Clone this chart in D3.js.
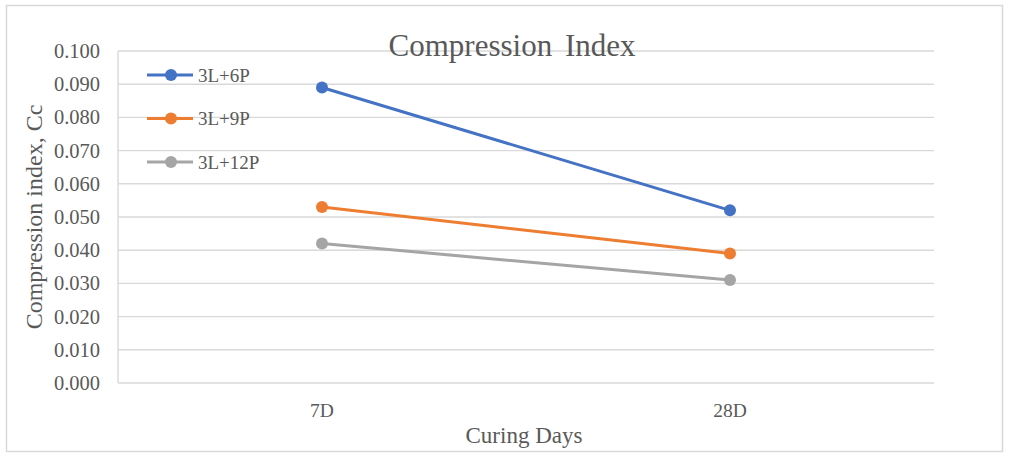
<!DOCTYPE html>
<html>
  <head>
    <meta charset="utf-8" />
    <title>Compression Index</title>
    <style>
      body {
        margin: 0;
        background: #fff;
      }
      svg text {
        font-family: "Liberation Serif", "Times New Roman", serif !important;
        fill: #595959;
      }
      .grid line {
        stroke: #d9d9d9;
        stroke-width: 1.4;
      }
    </style>
    <script src="https://d3js.org/d3.v7.min.js" charset="utf-8"></script>
  </head>
  <body>
    <script>
      const categories = ["7D", "28D"];
      const seriesNames = ["3L+6P", "3L+9P", "3L+12P"];
      const seriesValues = [
        [0.089, 0.052],
        [0.053, 0.039],
        [0.042, 0.031],
      ];
      const yTicks = [0, 0.01, 0.02, 0.03, 0.04, 0.05, 0.06, 0.07, 0.08, 0.09, 0.1];
      const colors = ["#4472c4", "#ed7d31", "#a5a5a5"];

      const W = 1011,
        H = 454;
      const margin = { top: 51, right: 77, bottom: 71, left: 118 };
      const width = W - margin.left - margin.right,
        height = H - margin.top - margin.bottom;

      const svg = d3.select("body").append("svg").attr("width", W).attr("height", H);

      // outer chart frame
      svg
        .append("rect")
        .attr("x", 6.5)
        .attr("y", 5.5)
        .attr("width", 996)
        .attr("height", 446)
        .attr("fill", "#fff")
        .attr("stroke", "#d9d9d9")
        .attr("stroke-width", 1.5);

      const x = d3.scaleBand().domain(categories).range([0, width]);
      const y = d3.scaleLinear().domain([0, 0.1]).range([height, 0]);

      const g = svg
        .append("g")
        .attr("transform", "translate(" + margin.left + "," + margin.top + ")");

      // horizontal gridlines
      g.append("g")
        .attr("class", "grid")
        .selectAll("line")
        .data(yTicks)
        .join("line")
        .attr("x1", 0)
        .attr("x2", width)
        .attr("y1", (d) => y(d))
        .attr("y2", (d) => y(d));

      // left axis line
      g.append("line")
        .attr("x1", 0)
        .attr("x2", 0)
        .attr("y1", 0)
        .attr("y2", height)
        .attr("stroke", "#d9d9d9")
        .attr("stroke-width", 1.4);

      // y axis labels
      const yAxis = g
        .append("g")
        .call(d3.axisLeft(y).tickValues(yTicks).tickFormat(d3.format(".3f")).tickSize(0).tickPadding(18));
      yAxis.select(".domain").remove();
      yAxis.selectAll("text").style("font-size", "20.5px");

      // x axis labels
      const xAxis = g
        .append("g")
        .attr("transform", "translate(0," + height + ")")
        .call(d3.axisBottom(x).tickSize(0).tickPadding(20));
      xAxis.select(".domain").remove();
      xAxis.selectAll("text").style("font-size", "19.5px");

      // title
      svg
        .append("text")
        .attr("x", 512)
        .attr("y", 56)
        .attr("text-anchor", "middle")
        .style("font-size", "31px")
        .attr("word-spacing", 5)
        .text("Compression Index");

      // axis titles
      svg
        .append("text")
        .attr("transform", "translate(42," + (margin.top + height / 2) + ") rotate(-90)")
        .attr("text-anchor", "middle")
        .style("font-size", "24px")
        .text("Compression index, Cc");

      svg
        .append("text")
        .attr("x", 524)
        .attr("y", 443)
        .attr("text-anchor", "middle")
        .style("font-size", "23px")
        .text("Curing Days");

      // series lines and markers
      const line = d3
        .line()
        .x((d, i) => x(categories[i]) + x.bandwidth() / 2)
        .y((d) => y(d));

      seriesValues.forEach(function (vals, s) {
        g.append("path")
          .attr("d", line(vals))
          .attr("fill", "none")
          .attr("stroke", colors[s])
          .attr("stroke-width", 3);
        g.selectAll(".pt" + s)
          .data(vals)
          .join("circle")
          .attr("cx", (d, i) => x(categories[i]) + x.bandwidth() / 2)
          .attr("cy", (d) => y(d))
          .attr("r", 6)
          .attr("fill", colors[s]);
      });

      // legend
      const legend = svg
        .append("g")
        .selectAll("g")
        .data(seriesNames)
        .join("g")
        .attr("transform", (d, i) => "translate(147," + (75 + i * 43.5) + ")");
      legend
        .append("line")
        .attr("x1", 0)
        .attr("x2", 46)
        .attr("stroke", (d, i) => colors[i])
        .attr("stroke-width", 3);
      legend
        .append("circle")
        .attr("cx", 24)
        .attr("r", 6)
        .attr("fill", (d, i) => colors[i]);
      legend
        .append("text")
        .attr("x", 51)
        .attr("dy", "0.35em")
        .style("font-size", "19px")
        .text((d) => d);
    </script>
  </body>
</html>
